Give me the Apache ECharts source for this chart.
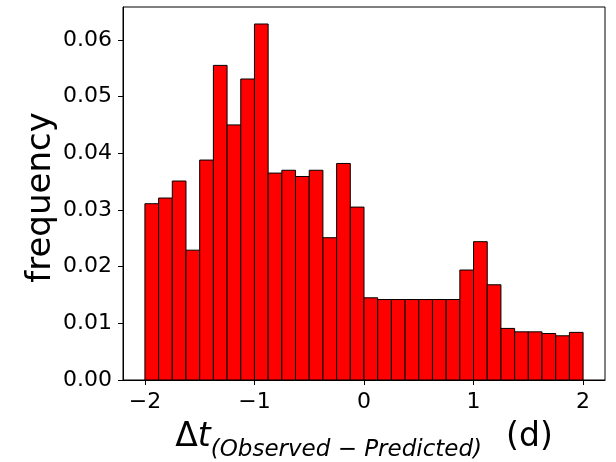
<!DOCTYPE html>
<html>
<head>
<meta charset="utf-8">
<script src="https://cdn.jsdelivr.net/npm/echarts@6/dist/echarts.min.js"></script>
<style>html,body{margin:0;padding:0;background:#fff;}#c{width:616px;height:462px;}</style>
</head>
<body>
<div id="c"></div>
<script>
// Histogram bin edges (d)
const binEdges = [-2, -1.875, -1.75, -1.625, -1.5, -1.375, -1.25, -1.125, -1,
  -0.875, -0.75, -0.625, -0.5, -0.375, -0.25, -0.125, 0,
  0.125, 0.25, 0.375, 0.5, 0.625, 0.75, 0.875, 1,
  1.125, 1.25, 1.375, 1.5, 1.625, 1.75, 1.875, 2];
// frequency per bin
const frequency = [0.0311, 0.0321, 0.0351, 0.0229, 0.0388, 0.0555, 0.0450, 0.0531, 0.0628,
  0.0365, 0.0370, 0.0359, 0.0370, 0.0251, 0.0382, 0.0305,
  0.0145, 0.0142, 0.0142, 0.0142, 0.0142, 0.0142, 0.0142, 0.0194,
  0.0244, 0.0168, 0.0091, 0.0085, 0.0085, 0.0082, 0.0078, 0.0084];
const xTicks = [-2, -1, 0, 1, 2];
const yTicks = [0, 0.01, 0.02, 0.03, 0.04, 0.05, 0.06];

const data = frequency.map((v, i) => [binEdges[i], binEdges[i + 1], v]);

const chart = echarts.init(document.getElementById('c'), null, {renderer: 'canvas'});
const FONT = 'DejaVu Sans';
chart.setOption({
  animation: false,
  backgroundColor: '#fff',
  grid: {left: 123, right: 11, top: 7, bottom: 82, show: true, borderColor: '#000', borderWidth: 1,
    backgroundColor: 'transparent', containLabel: false, outerBoundsMode: 'none'},
  xAxis: {
    type: 'value', min: -2.2, max: 2.2,
    axisLine: {show: true, onZero: false, lineStyle: {color: '#000', width: 1}},
    axisTick: {show: true, length: 5, lineStyle: {color: '#000'}, customValues: xTicks},
    axisLabel: {customValues: xTicks, color: '#000', fontFamily: FONT, fontSize: 22, margin: 11,
      formatter: v => (v < 0 ? '\u2212' + Math.abs(v) : String(v))},
    splitLine: {show: false},
    nameLocation: 'middle', nameGap: 41, nameMoveOverlap: false,
    name: '{d|Δ}{t|t}{s|(Observed − Predicted)}{u|(d)}',
    nameTextStyle: {
      rich: {
        d: {fontFamily: FONT, fontSize: 33, color: '#000', lineHeight: 41, verticalAlign: 'top'},
        t: {fontFamily: FONT, fontSize: 33, fontStyle: 'italic', color: '#000', lineHeight: 41, verticalAlign: 'top'},
        s: {fontFamily: FONT, fontSize: 23, fontStyle: 'italic', color: '#000', lineHeight: 41, verticalAlign: 'bottom'},
        u: {fontFamily: FONT, fontSize: 33, color: '#000', lineHeight: 41, verticalAlign: 'top', padding: [0, 0, 0, 24]}
      }
    }
  },
  yAxis: {
    type: 'value', min: 0, max: 0.0658,
    axisLine: {show: true, onZero: false, lineStyle: {color: '#000', width: 1}},
    axisTick: {show: true, length: 5, lineStyle: {color: '#000'}, customValues: yTicks},
    axisLabel: {customValues: yTicks, color: '#000', fontFamily: FONT, fontSize: 22, margin: 11,
      formatter: v => v.toFixed(2)},
    splitLine: {show: false},
    name: 'frequency', nameLocation: 'middle', nameGap: 65, nameRotate: 90, nameMoveOverlap: false,
    nameTextStyle: {fontFamily: FONT, fontSize: 34, color: '#000', padding: [0, 8, 0, 0]}
  },
  series: [{
    type: 'custom',
    data: data,
    encode: {x: [0, 1], y: 2},
    renderItem: function (params, api) {
      const p0 = api.coord([api.value(0), api.value(2)]);
      const p1 = api.coord([api.value(1), 0]);
      return {
        type: 'rect',
        shape: {x: p0[0], y: p0[1], width: p1[0] - p0[0], height: p1[1] - p0[1]},
        style: {fill: '#ff0000', stroke: '#000', lineWidth: 1}
      };
    }
  }]
});
</script>
</body>
</html>
